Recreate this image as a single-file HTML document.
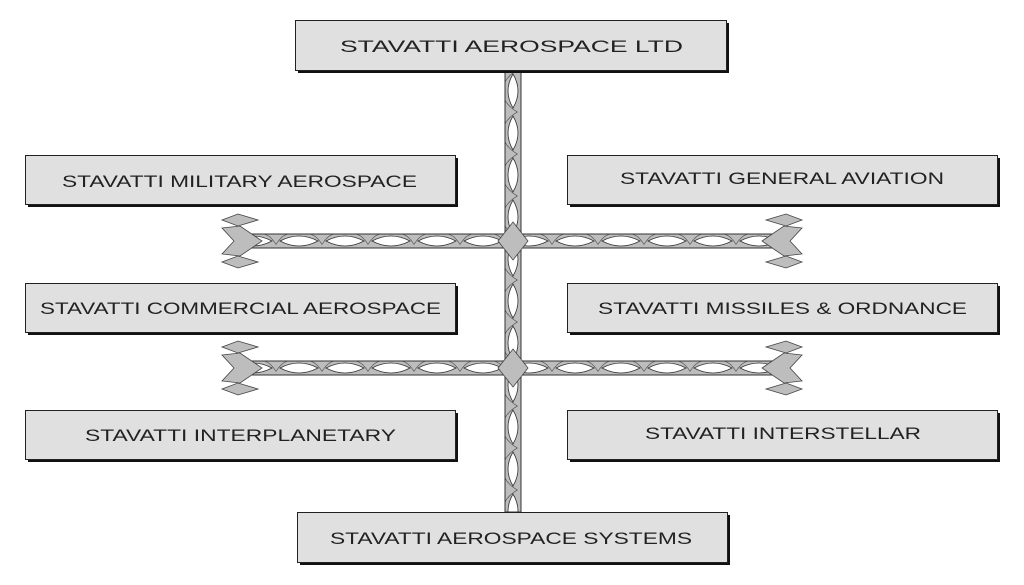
<!DOCTYPE html>
<html><head><meta charset="utf-8"><style>
html,body{margin:0;padding:0;background:#fff;width:1024px;height:585px;overflow:hidden}
</style></head><body>
<svg width="1024" height="585" viewBox="0 0 1024 585" xmlns="http://www.w3.org/2000/svg">
<defs>
<pattern id="hch" x="0" y="234" width="46" height="14" patternUnits="userSpaceOnUse">
<rect width="46" height="14" fill="#bdbdbd"/>
<path d="M4 7 Q23 -3 42 7 Q23 17 4 7Z" fill="#fff" stroke="#333" stroke-width="0.8"/>
<path d="M-2 14 Q4 2 12 0 M34 0 Q42 2 48 14" fill="none" stroke="#555" stroke-width="0.7"/>
</pattern>
<pattern id="hch2" x="0" y="361" width="46" height="14" patternUnits="userSpaceOnUse">
<rect width="46" height="14" fill="#bdbdbd"/>
<path d="M4 7 Q23 -3 42 7 Q23 17 4 7Z" fill="#fff" stroke="#333" stroke-width="0.8"/>
<path d="M-2 14 Q4 2 12 0 M34 0 Q42 2 48 14" fill="none" stroke="#555" stroke-width="0.7"/>
</pattern>
<pattern id="vch" x="505" y="70" width="16" height="42" patternUnits="userSpaceOnUse">
<rect width="16" height="42" fill="#bdbdbd"/>
<path d="M8 4 Q-2 21 8 38 Q18 21 8 4Z" fill="#fff" stroke="#333" stroke-width="0.8"/>
<path d="M16 -2 Q4 4 0 12 M0 30 Q4 38 16 44" fill="none" stroke="#555" stroke-width="0.7"/>
</pattern>
</defs>
<g stroke="#333" stroke-width="1">
<rect x="505" y="70" width="16" height="442" fill="url(#vch)"/>
<rect x="240" y="234" width="546" height="14" fill="url(#hch)"/>
<rect x="240" y="361" width="546" height="14" fill="url(#hch2)"/>
</g>
<g fill="#bdbdbd" stroke="#444" stroke-width="0.8">
<path d="M513 222 L528 241 L513 260 L498 241Z"/>
<path d="M513 349 L528 368 L513 387 L498 368Z"/>
<path d="M222 220 L238 214 L258 220 L238 226Z"/>
<path d="M222 228 L240 226 L262 241 L240 256 L222 254 L234 241Z"/>
<path d="M222 262 L238 256 L258 262 L238 268Z"/>
<path d="M222 347 L238 341 L258 347 L238 353Z"/>
<path d="M222 355 L240 353 L262 368 L240 383 L222 381 L234 368Z"/>
<path d="M222 389 L238 383 L258 389 L238 395Z"/>
<path d="M802 220 L786 214 L766 220 L786 226Z"/>
<path d="M802 228 L784 226 L762 241 L784 256 L802 254 L790 241Z"/>
<path d="M802 262 L786 256 L766 262 L786 268Z"/>
<path d="M802 347 L786 341 L766 347 L786 353Z"/>
<path d="M802 355 L784 353 L762 368 L784 383 L802 381 L790 368Z"/>
<path d="M802 389 L786 383 L766 389 L786 395Z"/>
</g>
<g fill="#111">
<rect x="298" y="23" width="431" height="50"/>
<rect x="28" y="158" width="430" height="49"/>
<rect x="570" y="158" width="430" height="49"/>
<rect x="28" y="286" width="430" height="49"/>
<rect x="570" y="286" width="430" height="49"/>
<rect x="28" y="413" width="430" height="49"/>
<rect x="570" y="413" width="430" height="49"/>
<rect x="300" y="515" width="430" height="50"/>
</g>
<g fill="#e0e0e0" stroke="#222" stroke-width="1">
<rect x="295.5" y="20.5" width="431" height="50"/>
<rect x="25.5" y="155.5" width="430" height="49"/>
<rect x="567.5" y="155.5" width="430" height="49"/>
<rect x="25.5" y="283.5" width="430" height="49"/>
<rect x="567.5" y="283.5" width="430" height="49"/>
<rect x="25.5" y="410.5" width="430" height="49"/>
<rect x="567.5" y="410.5" width="430" height="49"/>
<rect x="297.5" y="512.5" width="430" height="50"/>
</g>
<g font-family="Liberation Sans, sans-serif" font-size="17" fill="#222">
<text x="340" y="52" textLength="343" lengthAdjust="spacingAndGlyphs">STAVATTI AEROSPACE LTD</text>
<text x="62" y="187" textLength="355" lengthAdjust="spacingAndGlyphs">STAVATTI MILITARY AEROSPACE</text>
<text x="620" y="184" textLength="324" lengthAdjust="spacingAndGlyphs">STAVATTI GENERAL AVIATION</text>
<text x="40" y="314" textLength="401" lengthAdjust="spacingAndGlyphs">STAVATTI COMMERCIAL AEROSPACE</text>
<text x="598" y="314" textLength="369" lengthAdjust="spacingAndGlyphs">STAVATTI MISSILES &amp; ORDNANCE</text>
<text x="85" y="441" textLength="311" lengthAdjust="spacingAndGlyphs">STAVATTI INTERPLANETARY</text>
<text x="645" y="439" textLength="276" lengthAdjust="spacingAndGlyphs">STAVATTI INTERSTELLAR</text>
<text x="330" y="544" textLength="362" lengthAdjust="spacingAndGlyphs">STAVATTI AEROSPACE SYSTEMS</text>
</g>
</svg>
</body></html>
